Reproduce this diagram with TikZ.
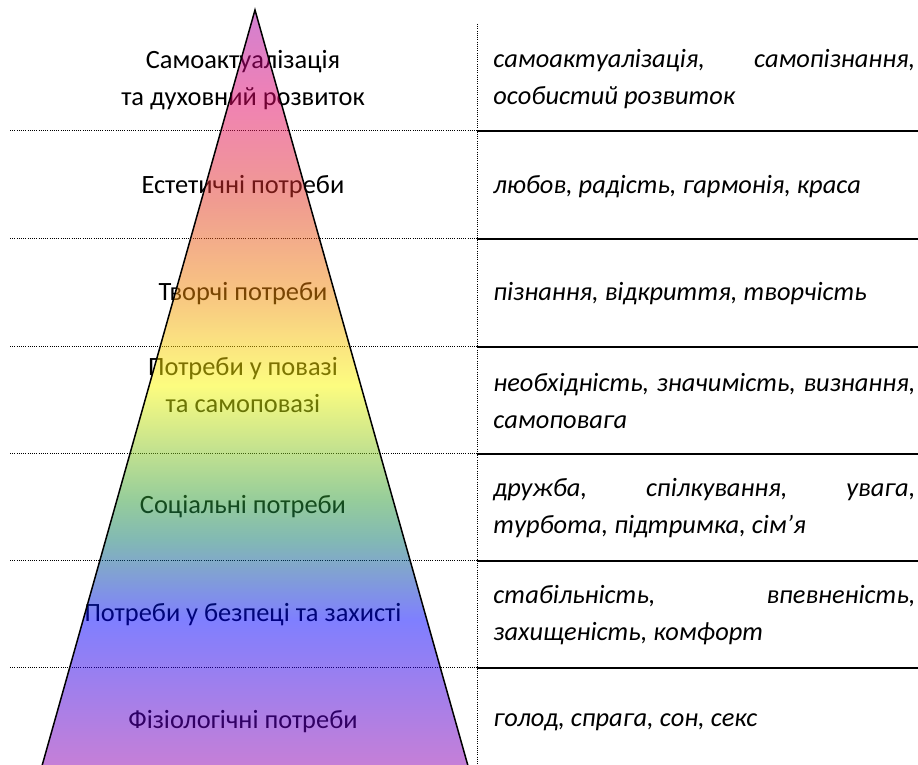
\documentclass[tikz,border=0pt]{standalone}
\usepackage{fontspec}
\setmainfont{Carlito}

\definecolor{pyrTop}{RGB}{165,0,165}
\definecolor{pyrPink}{RGB}{225,5,105}
\definecolor{pyrRed}{RGB}{225,55,35}
\definecolor{pyrOrange}{RGB}{241,135,5}
\definecolor{pyrYellow}{RGB}{250,250,0}
\definecolor{pyrGreen}{RGB}{45,155,55}
\definecolor{pyrTeal}{RGB}{5,115,105}
\definecolor{pyrBlue}{RGB}{0,0,255}
\definecolor{pyrBottom}{RGB}{150,0,170}
\pgfdeclareverticalshading{rainbow}{100bp}{color(0bp)=(pyrBottom); color(25bp)=(pyrBottom);
  color(35.2bp)=(pyrBlue); color(40.4bp)=(pyrTeal); color(43bp)=(pyrGreen);
  color(50.5bp)=(pyrYellow); color(56.7bp)=(pyrOrange); color(62.6bp)=(pyrRed);
  color(69.1bp)=(pyrPink); color(75bp)=(pyrTop); color(100bp)=(pyrTop)}

\begin{document}
\begin{tikzpicture}[x=.5pt,y=-.5pt,
    rowline/.style={line width=.5pt,dash pattern=on .5pt off .6pt},
    sepline/.style={line width=.9pt},
    level/.style={font=\fontsize{13.2}{18.5}\selectfont,align=center},
    need/.style={font=\fontsize{13.2}{18.5}\selectfont\itshape,text width=211pt,
      align=justify,anchor=west,inner sep=0pt}]
    \useasboundingbox (0,0) rectangle (918,765);
    %table lines
    \coordinate (coltop) at (477,24);
    \coordinate (colbot) at (477,765);
    \draw [rowline] (coltop) -- (colbot);
    \foreach \y in {131,239,347,454,561,668}{
        \draw [rowline] (10,\y) -- (477,\y);
        \draw [sepline] (477,\y) -- (918,\y);
    }
    %levels of the pyramid
    \node [level] (self) at (243,80) {Самоактуалізація\\та духовний розвиток};
    \node [level] (aesth) at (243,187) {Естетичні потреби};
    \node [level] (creat) at (243,294) {Творчі потреби};
    \node [level] (esteem) at (243,385) {Потреби у повазі\\та самоповазі};
    \node [level] (social) at (243,507) {Соціальні потреби};
    \node [level] (safety) at (243,615) {Потреби у безпеці та захисті};
    \node [level] (physio) at (243,722) {Фізіологічні потреби};
    %what each level means
    \node [need] (selfN) at (493,79) {самоактуалізація, самопізнання,\linebreak особистий розвиток};
    \node [need] (aesthN) at (493,187) {любов, радість, гармонія, краса};
    \node [need] (creatN) at (493,294) {пізнання, відкриття, творчість};
    \node [need] (esteemN) at (493,401) {необхідність, значимість, визнання,\linebreak самоповага};
    \node [need] (socialN) at (493,508) {дружба, спілкування, увага,\linebreak турбота, підтримка, сім’я};
    \node [need] (safetyN) at (493,615) {стабільність, впевненість,\linebreak захищеність, комфорт};
    \node [need] (physioN) at (493,722) {голод, спрага, сон, секс};
    %pyramid over the labels
    \coordinate (apex) at (255,10);
    \coordinate (baseL) at (39.2,775.8);
    \coordinate (baseR) at (470.8,775.8);
    \shade [shading=rainbow,fill opacity=.5] (apex) -- (baseR) -- (baseL) -- cycle;
    \draw [line width=.75pt] (baseL) -- (apex) -- (baseR);
\end{tikzpicture}
\end{document}
